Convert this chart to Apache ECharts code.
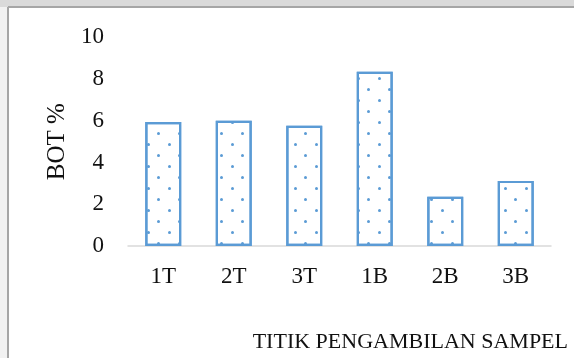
<!DOCTYPE html>
<html>
<head>
<meta charset="utf-8">
<script src="https://cdn.jsdelivr.net/npm/echarts@6/dist/echarts.min.js"></script>
<style>
  html, body { margin: 0; padding: 0; background: #fff; }
  #chart { width: 574px; height: 358px; }
</style>
</head>
<body>
<div id="chart"></div>
<script>
// Sampling points and organic matter (BOT %) at each point
const categories = ['1T', '2T', '3T', '1B', '2B', '3B'];
const botValues = [5.94, 6.00, 5.76, 8.35, 2.36, 3.12];
const yTicks = { min: 0, max: 10, interval: 2 };

const serif = '"Liberation Serif", "Times New Roman", serif';
const blue = '#5b9bd5';

const chart = echarts.init(document.getElementById('chart'), null, { renderer: 'canvas' });

chart.setOption({
  backgroundColor: '#ffffff',
  animation: false,
  graphic: [
    // page margin strips and the frame around the figure
    { type: 'rect', shape: { x: 0, y: 0, width: 574, height: 7 }, style: { fill: '#dadada' }, silent: true },
    { type: 'rect', shape: { x: 0, y: 7, width: 8, height: 351 }, style: { fill: '#f2f2f2' }, silent: true },
    { type: 'line', shape: { x1: 8, y1: 7, x2: 574, y2: 7 }, style: { stroke: '#a6a6a6', lineWidth: 2 }, silent: true },
    { type: 'line', shape: { x1: 8, y1: 7, x2: 8, y2: 358 }, style: { stroke: '#a6a6a6', lineWidth: 2 }, silent: true }
  ],
  title: {
    text: 'TITIK PENGAMBILAN SAMPEL',
    right: 1,
    top: 326,
    textStyle: { fontFamily: serif, fontSize: 22, fontWeight: 'normal', color: '#111' }
  },
  grid: { left: 128, right: 23, top: 37.3, bottom: 112 },
  xAxis: {
    type: 'category',
    data: categories,
    axisLine: { show: true, lineStyle: { color: '#d9d9d9', width: 1.5 } },
    axisTick: { show: false },
    axisLabel: { margin: 19, fontFamily: serif, fontSize: 23, color: '#111' }
  },
  yAxis: {
    type: 'value',
    min: yTicks.min,
    max: yTicks.max,
    interval: yTicks.interval,
    name: 'BOT %',
    nameLocation: 'middle',
    nameGap: 58,
    nameRotate: 90,
    nameTextStyle: { fontFamily: serif, fontSize: 25, color: '#111' },
    axisLine: { show: false },
    axisTick: { show: false },
    splitLine: { show: false },
    axisLabel: { margin: 24, fontFamily: serif, fontSize: 23, color: '#111' }
  },
  series: [{
    type: 'bar',
    data: botValues,
    barWidth: '51%',
    itemStyle: {
      color: '#ffffff',
      borderColor: blue,
      borderWidth: 2.2,
      decal: {
        symbol: 'circle',
        symbolSize: 1,
        color: blue,
        backgroundColor: 'rgba(255,255,255,0)',
        dashArrayX: [[3, 18], [0, 10, 3, 8]],
        dashArrayY: [3, 8],
        rotation: 0
      }
    }
  }]
});
</script>
</body>
</html>
